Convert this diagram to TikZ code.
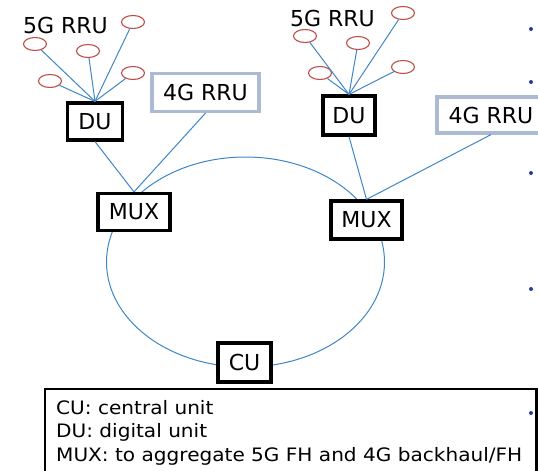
\documentclass[tikz,border=0pt]{standalone}
\usepackage{fontspec}
\setmainfont{DejaVu Sans}
\newfontfamily\legendfont[FakeStretch=1.085]{DejaVu Sans}
\usetikzlibrary{shapes.geometric}
\definecolor{linkblue}{RGB}{62,134,198}
\definecolor{rrured}{RGB}{190,78,72}
\definecolor{rrugrey}{RGB}{172,186,210}
\definecolor{bulletblue}{RGB}{40,62,150}
\tikzset{
  unitbox/.style={draw=black, line width=3.2pt, fill=white, inner sep=0pt,
    font=\fontsize{22}{26}\selectfont},
  lterbox/.style={draw=rrugrey, line width=3.2pt, fill=white, inner sep=0pt,
    font=\fontsize{22}{26}\selectfont},
  radio/.style={ellipse, draw=rrured, line width=1.1pt, fill=white,
    minimum width=23pt, minimum height=13pt, inner sep=0pt},
  link/.style={draw=linkblue, line width=1pt},
  bigtext/.style={font=\fontsize{22}{26}\selectfont, inner sep=0pt},
  legendline/.style={anchor=base west, inner sep=0pt,
    font=\legendfont\fontsize{18.5}{24}\selectfont},
  dotmark/.style={circle, fill=bulletblue, inner sep=0pt, minimum size=4pt}
}
\begin{document}
\begin{tikzpicture}[x=1pt, y=-1pt]
\useasboundingbox (0,0) rectangle (538,471);

% ring linking the two multiplexers and the central unit
\coordinate (ringc) at (245.5,262);
\draw[link] (ringc) ellipse [x radius=139, y radius=105];

% left site
\node[bigtext] (t5gl) at (65.5,25) {5G RRU};
\node[radio] (l1) at (133,22) {};
\node[radio] (l2) at (35,44) {};
\node[radio] (l3) at (88,51) {};
\node[radio] (l4) at (50,81) {};
\node[radio] (l5) at (133,73) {};
\node[unitbox, minimum width=55pt, minimum height=37pt] (dul) at (95,121.5) {DU};
\node[lterbox, minimum width=107pt, minimum height=38pt] (lte4l) at (205.5,92.5) {4G RRU};
\node[unitbox, minimum width=72pt, minimum height=37pt] (muxl) at (134,212) {MUX};

% right site
\node[bigtext] (t5gr) at (332.5,18) {5G RRU};
\node[radio] (r1) at (403,13) {};
\node[radio] (r2) at (305,36) {};
\node[radio] (r3) at (358,43) {};
\node[radio] (r4) at (320,73) {};
\node[radio] (r5) at (403,67) {};
\node[unitbox, minimum width=52pt, minimum height=39pt] (dur) at (349,115.5) {DU};
\node[lterbox, minimum width=108pt, minimum height=36pt] (lte4r) at (491,115) {4G RRU};
\node[unitbox, minimum width=71pt, minimum height=38pt] (muxr) at (366.5,220) {MUX};

% central unit
\node[unitbox, minimum width=53pt, minimum height=39pt] (cu) at (244.5,362.5) {CU};

% fronthaul links
\foreach \e in {l1,l2,l3,l4,l5} \draw[link] (\e) -- (dul.north);
\foreach \e in {r1,r2,r3,r4,r5} \draw[link] (\e) -- (dur.north);
\draw[link] (dul.south) -- (muxl.north);
\draw[link] (lte4l.south) -- (muxl.north);
\draw[link] (dur.south) -- (muxr.north);
\draw[link] (lte4r.south) -- (muxr.north);

% legend
\draw[black, line width=2.4pt] (45,389) rectangle (536.5,474);
\node[legendline] (leg1) at (56,414) {CU: central unit};
\node[legendline] (leg2) at (56,437.5) {DU: digital unit};
\node[legendline] (leg3) at (56,461.5) {MUX: to aggregate 5G FH and 4G backhaul/FH};

% bullet marks at the right edge
\foreach \y [count=\i] in {29,82,173,289,413} \node[dotmark] (b\i) at (531,\y) {};
\end{tikzpicture}
\end{document}
